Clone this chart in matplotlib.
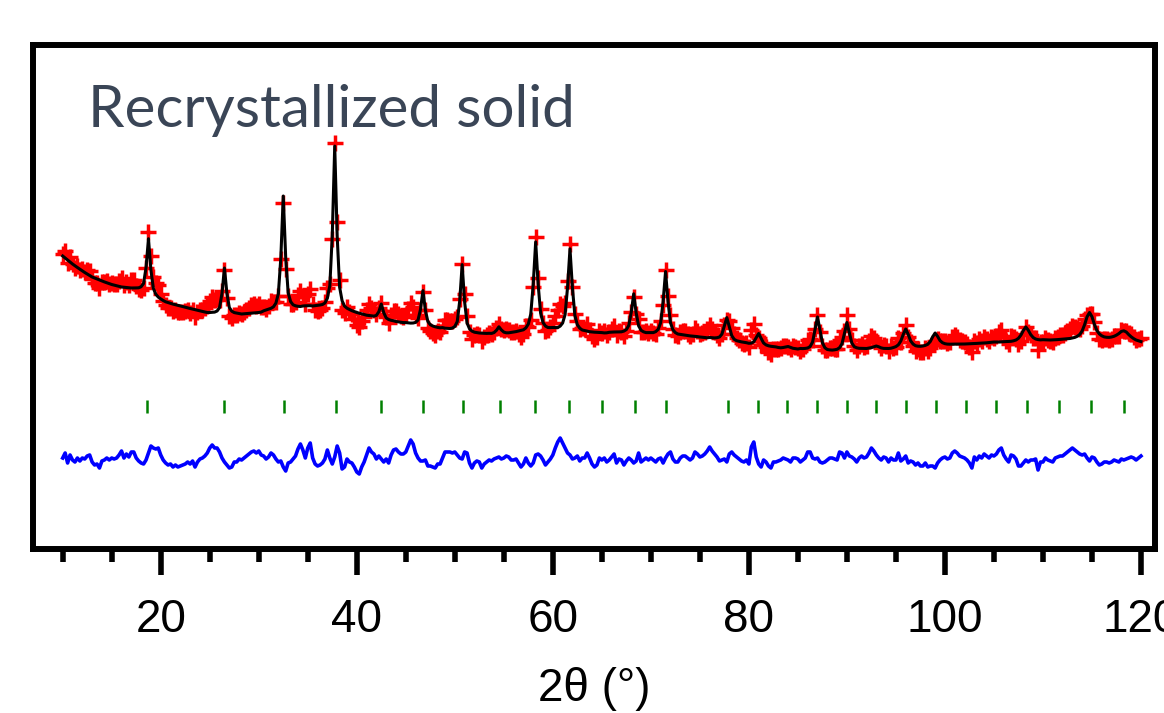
import numpy as np
import matplotlib
matplotlib.use("Agg")
import matplotlib.pyplot as plt
from matplotlib.ticker import MultipleLocator

# scan grid, 2theta (deg), 0.25 deg step
two_theta = np.linspace(10, 120, 441)

# calculated profile (arb. units)
calc = [
    293, 291, 289, 287, 285, 283.2, 281.5, 279.8, 278, 276.5, 275, 273.5,
    272, 271, 270, 269, 268, 267.1, 266.2, 265.4, 264.5, 263.9, 263.2, 262.6,
    262, 261.8, 261.5, 261.2, 261, 261, 261.1, 261.2, 262.3, 265.5, 281.3, 310.3,
    278.8, 260.5, 254.8, 251.9, 250.1, 248.5, 247.2, 246.4, 245.5, 244.9, 244.3, 243.6,
    243, 242.4, 241.8, 241.1, 240.5, 239.9, 239.3, 238.6, 238, 237.5, 237, 236.5,
    236.5, 236.7, 236.9, 238, 241.4, 255.7, 281, 255.7, 241.4, 237.8, 236.4, 235.9,
    235.5, 235, 235.2, 235.4, 235.5, 235.8, 236, 236.2, 236.5, 236.9, 238.2, 239,
    239.7, 240.7, 242.2, 245.9, 255.3, 290.7, 353, 291.1, 256.3, 247.4, 244.2, 243.2,
    242.7, 242.5, 243, 243.2, 243.2, 243.3, 243, 243.3, 243.6, 244, 244.5, 246,
    250.8, 263.4, 313.6, 402.9, 312.9, 261.8, 248.3, 242.9, 240.8, 239.5, 238.3, 237.4,
    236.5, 235.8, 235.1, 234.5, 233.8, 233.5, 233.1, 232.9, 233.6, 237.3, 245, 236.3,
    231.1, 229.5, 228.7, 228.2, 227.5, 227.1, 226.8, 226.4, 226.4, 226.1, 225.9, 226,
    226.6, 229, 239.6, 258.4, 238.8, 227.5, 224.3, 223, 222.2, 221.6, 221.2, 221.4,
    220.8, 220.6, 220.5, 220.9, 222.5, 227.5, 248, 284.4, 247.2, 226, 220.2, 217.9,
    216.8, 216.4, 216, 215.8, 215.7, 215.6, 215.7, 215.6, 216.4, 218.7, 222.2, 219.1,
    216.9, 216.2, 216.2, 216.6, 216.9, 217.4, 218, 218.7, 219.2, 221.1, 224.9, 234.9,
    264.7, 307.1, 264.9, 236.1, 226.4, 222.9, 221.5, 221.4, 221.5, 221.4, 221.4, 222.9,
    226, 234.4, 261.5, 300.2, 261, 233.5, 224.3, 220.8, 219, 218.5, 217.9, 217.3,
    217, 216.8, 216.7, 216.5, 216.4, 216.1, 216.2, 216.7, 216.9, 217, 217, 217.1,
    217.2, 217.9, 219.4, 223.6, 236.7, 255.2, 236.2, 223.3, 218.7, 217.2, 216.4, 216.4,
    216.4, 216.4, 217.4, 219.7, 226.3, 247.4, 277.5, 247.4, 226.3, 219.2, 216.4, 215,
    214.6, 214.2, 213.8, 213.4, 213.1, 212.9, 212.6, 212.4, 212, 211.8, 211.5, 211.2,
    211.5, 211.3, 211.1, 211.3, 212, 214.9, 223.1, 231.4, 222.3, 213.4, 209.7, 208.3,
    207.7, 207.1, 206.7, 206.3, 205.7, 205.9, 207.2, 211.3, 215.5, 210.6, 206, 204.1,
    203.2, 202.7, 202.4, 202.1, 201.5, 201.2, 201.5, 202, 202.5, 201.6, 200.7, 200.3,
    200, 200.5, 200.4, 200.6, 201, 202.5, 207, 219.3, 232, 218.9, 206.3, 201.3,
    199.5, 199.1, 198.9, 199.2, 199.7, 201.3, 205.3, 215.6, 226.5, 216.2, 206, 202.3,
    201.2, 200.7, 200.6, 200.5, 200.5, 201, 201.4, 202.2, 203, 202.2, 201.1, 200.6,
    200.6, 200.5, 200.8, 201.5, 202.4, 204.2, 208, 214.6, 220, 214.7, 208.2, 204.9,
    203.3, 202.8, 202.7, 203, 203.6, 204.7, 207.4, 212.2, 216, 212.6, 208.4, 206.3,
    205.3, 204.9, 204.8, 204.9, 204.9, 204.9, 204.8, 204.9, 205, 205.1, 205.2, 205.4,
    205.5, 205.6, 205.8, 205.9, 206, 206.2, 206.5, 206.8, 207, 207, 207, 207.2,
    207.3, 207.4, 207.5, 207.7, 208.2, 209, 210.7, 213.9, 218.5, 222.1, 218.8, 214.4,
    211.5, 210, 209.4, 209.1, 209.3, 209.2, 209.2, 209, 209.1, 209.1, 209.4, 209.6,
    209.8, 210, 210.3, 210.5, 211.1, 211.6, 212.7, 214.5, 218.1, 224.4, 232.2, 236.5,
    232.3, 224.6, 218.5, 215.1, 213.2, 212.1, 211.7, 211.6, 212, 212.7, 213.9, 215.5,
    217.6, 218.2, 217, 214.4, 212.2, 210.4, 209, 208.2, 207.4,
]

# difference obs - calc
diff = [
    2, 7, -3, 5, 0, -2, 2, -1, 2, 1, 4, 5, -2, -5, -4, -8, -1, 0, 2, 0,
    2, 1, 2, 5, 9, 2, 6, 3, 8, 8, 2, -1, -3, -4, 0, 7, 14, 12, 11, 12,
    5, 0, -3, -5, -4, -7, -5, -7, -6, -5, -4, -2, -4, -1, -7, -2, 1, 2, 4, 7,
    12, 15, 12, 12, 8, 2, -2, -5, -8, -7, -2, -2, 1, 0, 2, 4, 6, 8, 9, 7,
    9, 5, 4, 1, 3, 7, 5, 1, -2, -1, -7, -11, -3, -2, 1, 4, 11, 16, 10, 2,
    12, 17, 2, -4, -6, -5, -3, 1, 10, 2, -4, 3, 14, 7, -9, -7, 1, -2, -3, -7,
    -12, -14, -7, -2, 5, 12, 8, 6, 1, 4, 1, -2, 1, -3, 5, 10, 11, 8, 6, 6,
    8, 14, 20, 16, 7, 2, -1, -1, 0, -6, -6, -7, -8, -4, -4, 2, 8, 8, 8, 7,
    8, 5, 2, 1, 8, 7, -3, -8, -3, -1, -2, -8, -4, -2, 0, -1, 1, 2, 3, 1,
    2, 4, 3, 0, 0, 1, -3, -7, -4, 2, -3, -6, -3, 5, 6, 4, 0, -5, -2, 1,
    5, 12, 18, 22, 17, 12, 7, 5, 1, 2, 4, -1, 2, 2, 7, 2, -4, -7, -5, 2,
    0, 2, -2, 0, 3, 6, -3, 1, 0, -5, -1, 2, 0, -3, -1, 7, -2, 0, 2, 0,
    2, 0, -2, 1, 2, -3, 2, 6, 8, 1, -2, -2, 2, 4, 4, 2, 0, 2, 8, 6,
    3, 4, 6, 9, 13, 9, 6, 3, -1, 0, 1, -2, 6, 8, 5, 3, 1, -1, -2, 0,
    -4, 13, 18, 3, -4, -7, 0, -2, -6, -8, -2, -2, -1, 0, 2, 1, 0, -2, 2, 2,
    1, -2, 0, 2, 8, 8, 2, 1, 2, -2, -3, -2, 0, 2, 2, 1, 0, 8, 7, 2,
    8, 4, 3, 1, -2, 2, 4, 2, 3, 7, 12, 9, 5, 2, 0, 3, 2, -2, 2, 0,
    0, 7, -1, 1, 4, -3, -1, -2, -5, -3, -6, -6, -3, -7, -6, -6, -8, -3, 0, 2,
    3, 1, 2, 7, 9, 7, 4, 3, 2, 0, -3, -8, 3, 0, 4, 2, 6, 4, 2, 5,
    4, 6, 10, 12, 5, 1, -2, 5, 4, 1, -6, -6, -3, 0, -2, 0, 0, 1, -10, -2,
    -2, 2, 0, -1, -2, 2, 3, 4, 4, 6, 8, 10, 12, 10, 8, 6, 5, 6, 2, -1,
    3, 2, -2, -5, -4, -2, -2, -3, -2, 0, -1, -2, 1, 0, 1, 2, 3, 2, 0, 2,
    4,
]

# Bragg reflection positions
bragg = [18.61, 26.45, 32.57, 37.83, 42.49, 46.78, 50.79, 54.58, 58.23, 61.69,
         65.05, 68.35, 71.55, 77.82, 80.90, 83.93, 86.97, 89.97, 93.01, 96.05,
         99.09, 102.12, 105.2, 108.4, 111.6, 114.86, 118.28]

calc = np.array(calc)
diff = np.array(diff)
obs = calc + diff
diff_offset = 89
tick_lo, tick_hi = 136, 149

plt.rcParams['font.family'] = ['Liberation Sans', 'DejaVu Sans']

fig = plt.figure(figsize=(11.64, 7.13), dpi=100)
ax = fig.add_axes([33/1164, 164/713, (1155-33)/1164, (549-45)/713])

ax.plot(two_theta, obs, linestyle='none', marker='+', color='#ff0000',
        markersize=11.5, markeredgewidth=2.5, zorder=2)
ax.plot(two_theta, calc, color='black', linewidth=2.2, zorder=3)
ax.plot(two_theta, diff + diff_offset, color='#0000ff', linewidth=2.6, zorder=3)
ax.vlines(bragg, tick_lo, tick_hi, color='#008000', linewidth=1.8, zorder=3)

ax.set_xlim(6.97, 121.43)
ax.set_ylim(0, 504)
ax.set_yticks([])
ax.xaxis.set_major_locator(MultipleLocator(20))
ax.xaxis.set_minor_locator(MultipleLocator(5))
ax.set_xticks([20, 40, 60, 80, 100, 120])
ax.tick_params(axis='x', which='major', length=19, width=4, pad=16, labelsize=33)
ax.tick_params(axis='x', which='minor', length=9.5, width=4)
for s in ax.spines.values():
    s.set_linewidth(4.3)

ax.set_xlabel('2θ (°)', fontsize=33, labelpad=18)

fig.text(88/1164, (713-127)/713, 'Recrystallized solid', fontsize=42,
         family=['Lato', 'DejaVu Sans'], color='#3a4556', va='baseline', ha='left')

fig.savefig('out.png', dpi=100)
